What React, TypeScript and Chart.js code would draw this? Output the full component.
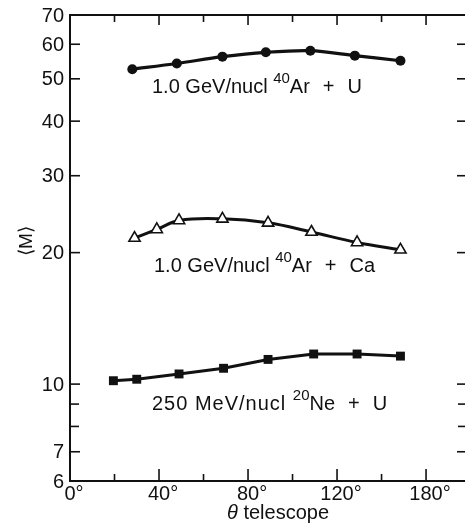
import React, { useEffect, useRef } from 'react';
import { Chart, registerables } from 'chart.js';

Chart.register(...registerables);

// ---- data ----
const arUAngles = [28, 48, 68.5, 88, 108, 128, 148.5];
const arUValues = [52.6, 54.2, 56.2, 57.5, 58.0, 56.5, 55.0];

const arCaAngles = [29, 39, 49, 68.5, 89, 108.5, 129, 148.5];
const arCaValues = [21.6, 22.6, 23.7, 23.9, 23.4, 22.3, 21.1, 20.3];

const neUAngles = [19.5, 30, 49, 69, 89, 109.5, 129, 148.5];
const neUValues = [10.18, 10.26, 10.55, 10.87, 11.39, 11.72, 11.72, 11.59];

const yTickValues = [6, 7, 10, 20, 30, 40, 50, 60, 70];
const yTickLabels = ['6', '7', '10', '20', '30', '40', '50', '60', '70'];
const yMinorTicks = [8, 9];

const xTickValues = [0, 40, 80, 120, 160];
const xTickLabels = ['0°', '40°', '80°', '120°', '180°'];
const xMinorTicks = [20, 60, 100, 140];

const seriesLabels = [
  { pre: '1.0 GeV/nucl ', sup: '40', post: 'Ar + U' },
  { pre: '1.0 GeV/nucl ', sup: '40', post: 'Ar + Ca' },
  { pre: '250 MeV/nucl ', sup: '20', post: 'Ne + U' },
];

const FONT = '"Liberation Sans", Arial, sans-serif';
const INK = '#111';

const toPts = (xs: number[], ys: number[]) => xs.map((x, i) => ({ x, y: ys[i] }));

export default function App() {
  const ref = useRef<HTMLCanvasElement>(null);

  useEffect(() => {
    const canvas = ref.current!;

    const framePlugin = {
      id: 'frame',
      beforeDatasetsDraw(chart: any) {
        const { ctx, chartArea: a, scales } = chart;
        const xs = scales.x;
        const ys = scales.y;
        const seg = (x1: number, y1: number, x2: number, y2: number) => {
          ctx.beginPath();
          ctx.moveTo(x1, y1);
          ctx.lineTo(x2, y2);
          ctx.stroke();
        };
        ctx.save();
        ctx.strokeStyle = INK;
        ctx.lineWidth = 2;
        ctx.strokeRect(a.left, a.top, a.right - a.left, a.bottom - a.top);
        ctx.lineWidth = 1.6;
        for (const v of yTickValues) {
          if (v === 6 || v === 70) continue;
          const p = ys.getPixelForValue(v);
          seg(a.left, p, a.left + 10, p);
          seg(a.right, p, a.right - 10, p);
        }
        for (const v of yMinorTicks) {
          const p = ys.getPixelForValue(v);
          seg(a.left, p, a.left + 9, p);
          seg(a.right, p, a.right - 9, p);
        }
        for (const v of xTickValues) {
          if (v === 0) continue;
          const p = xs.getPixelForValue(v);
          seg(p, a.bottom, p, a.bottom - 12);
          seg(p, a.top, p, a.top + 10);
        }
        for (const v of xMinorTicks) {
          const p = xs.getPixelForValue(v);
          seg(p, a.bottom, p, a.bottom - 7);
          seg(p, a.top, p, a.top + 7);
        }
        ctx.restore();
      },
      afterDraw(chart: any) {
        const { ctx, chartArea: a, scales } = chart;
        const xs = scales.x;
        const ys = scales.y;
        ctx.save();
        ctx.fillStyle = INK;
        // y tick labels
        ctx.font = `20px ${FONT}`;
        ctx.textAlign = 'right';
        ctx.textBaseline = 'middle';
        yTickValues.forEach((v, i) => {
          ctx.fillText(yTickLabels[i], a.left - 6, ys.getPixelForValue(v) + 1);
        });
        // x tick labels
        ctx.textAlign = 'center';
        ctx.textBaseline = 'top';
        xTickValues.forEach((v, i) => {
          ctx.fillText(xTickLabels[i], xs.getPixelForValue(v) + 4, a.bottom + 3);
        });
        // x title
        ctx.textBaseline = 'alphabetic';
        ctx.textAlign = 'left';
        const th = '\u03b8';
        const rest = ' telescope';
        ctx.font = `italic 20px ${FONT}`;
        const w1 = ctx.measureText(th).width;
        ctx.font = `20px ${FONT}`;
        const w2 = ctx.measureText(rest).width;
        const sx = 278 - (w1 + w2) / 2;
        ctx.font = `italic 20px ${FONT}`;
        ctx.fillText(th, sx, 519);
        ctx.font = `20px ${FONT}`;
        ctx.fillText(rest, sx + w1, 519);
        // y title
        ctx.save();
        ctx.translate(32, 241);
        ctx.rotate(-Math.PI / 2);
        ctx.textAlign = 'center';
        ctx.font = `19px ${FONT}`;
        ctx.fillText('\u27e8M\u27e9', 0, 0);
        ctx.restore();
        // series annotations
        const anchors = [
          { x: 152, y: 93, pre: 0, gap: 13 },
          { x: 154, y: 272, pre: 0, gap: 13 },
          { x: 152, y: 410, pre: 1, gap: 13 },
        ];
        seriesLabels.forEach((l, i) => {
          const { x, y, pre, gap } = anchors[i];
          ctx.textAlign = 'left';
          ctx.font = `20px ${FONT}`;
          (ctx as any).letterSpacing = `${pre}px`;
          ctx.fillText(l.pre, x, y);
          let px = x + ctx.measureText(l.pre).width;
          (ctx as any).letterSpacing = '0px';
          ctx.font = `15px ${FONT}`;
          ctx.fillText(l.sup, px, y - 10);
          px += ctx.measureText(l.sup).width;
          ctx.font = `20px ${FONT}`;
          l.post.split(' ').forEach((word) => {
            ctx.fillText(word, px, y);
            px += ctx.measureText(word).width + gap;
          });
        });
        ctx.restore();
      },
    };

    const chart = new Chart(canvas, {
      type: 'line',
      data: {
        datasets: [
          {
            label: '1.0 GeV/nucl 40Ar + U',
            data: toPts(arUAngles, arUValues),
            borderColor: INK,
            backgroundColor: INK,
            borderWidth: 3.2,
            tension: 0.3,
            pointStyle: 'circle',
            pointRadius: 5,
            pointBorderWidth: 0,
          },
          {
            label: '1.0 GeV/nucl 40Ar + Ca',
            data: toPts(arCaAngles, arCaValues),
            borderColor: INK,
            backgroundColor: '#fff',
            borderWidth: 3,
            tension: 0.4,
            pointStyle: 'triangle',
            pointRadius: 6.5,
            pointBorderWidth: 1.6,
            pointBorderColor: INK,
            pointBackgroundColor: '#fff',
          },
          {
            label: '250 MeV/nucl 20Ne + U',
            data: toPts(neUAngles, neUValues),
            borderColor: INK,
            backgroundColor: INK,
            borderWidth: 3,
            tension: 0,
            pointStyle: 'rect',
            pointRadius: 6.3,
            pointBorderWidth: 0,
          },
        ],
      },
      options: {
        animation: false,
        responsive: false,
        devicePixelRatio: 1,
        layout: {
          autoPadding: false,
          padding: { left: 70, top: 15, right: 472 - 467, bottom: 527 - 481 },
        },
        plugins: { legend: { display: false }, tooltip: { enabled: false } },
        scales: {
          x: { type: 'linear', min: 0, max: 178.4, display: false },
          y: { type: 'logarithmic', min: 6, max: 70, display: false },
        },
      },
      plugins: [framePlugin],
    });
    return () => chart.destroy();
  }, []);

  return (
    <div
      style={{
        position: 'fixed',
        left: 0,
        top: 0,
        width: 465,
        height: 527,
        overflow: 'hidden',
        background: '#fff',
      }}
    >
      <canvas ref={ref} width={472} height={527} />
    </div>
  );
}
